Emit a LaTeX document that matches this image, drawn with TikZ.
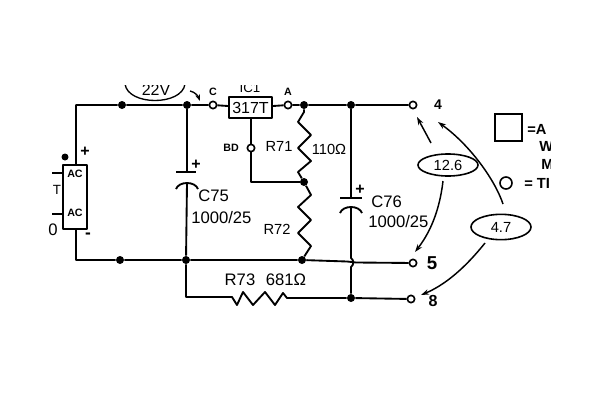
\documentclass[tikz,border=0pt]{standalone}
\usepackage{fontspec}
\setmainfont{Liberation Sans}
\usetikzlibrary{arrows.meta,shapes.geometric}
\tikzset{
  wire/.style={line width=1.4pt,line join=round},
  thin wire/.style={line width=1pt},
  lead/.style={line width=1.1pt,-{Stealth[length=6pt,width=4pt]}},
  junct/.style={circle,fill=black,inner sep=0pt,minimum size=6pt},
  term/.style={circle,draw,line width=1.2pt,fill=white,inner sep=0pt,minimum size=5.5pt},
  lab/.style={inner sep=0.75pt,font=\fontsize{12.5}{14}\selectfont},
  small lab/.style={inner sep=0.75pt,font=\fontsize{8}{9}\selectfont\bfseries},
  key lab/.style={inner sep=0.75pt,anchor=west,font=\fontsize{11}{12}\selectfont\bfseries},
  callout/.style={ellipse,draw,line width=1.2pt,minimum width=45pt,inner sep=0pt,font=\fontsize{11}{12}\selectfont}
}
\begin{document}
\begin{tikzpicture}[x=0.75pt,y=0.75pt,yscale=-1,xscale=1]
\useasboundingbox (0,0) rectangle (600,400);

% Junctions
\node [junct] (n1) at (122,105) {};
\node [junct] (n2) at (187,105) {};
\node [junct] (n3) at (304,105) {};
\node [junct] (n4) at (351,105) {};
\node [junct] (n5) at (304,182) {};
\node [junct] (n6) at (120,260) {};
\node [junct] (n7) at (186,260) {};
\node [junct] (n8) at (302,260) {};
\node [junct] (n9) at (351,298) {};
% Terminals
\node [term] (ptC) at (213,105) {};
\node [term] (ptA) at (288,105) {};
\node [term] (ptBD) at (251,148) {};
\node [term] (t4) at (413,105) {};
\node [term] (t5) at (413,263) {};
\node [term] (t8) at (411,299) {};
% Boxes
\node [draw,wire,minimum width=32pt,minimum height=16pt,inner sep=0pt] (reg) at (250.5,107.5) {\fontsize{12}{13}\selectfont 317T};
\node [draw,wire,minimum width=18pt,minimum height=48pt,inner sep=0pt] (bridge) at (75,197) {};
% Corners
\coordinate (cTL) at (76,105);
\coordinate (cBL) at (76,260);
\coordinate (c75a) at (187,172);
\coordinate (c75b) at (187,183);
\coordinate (c76a) at (351,198);
\coordinate (c76b) at (351,207);

% Top wire
\draw [wire] (bridge.north -| cTL) -- (cTL) -- (n1) -- (n2) -- (ptC) -- (reg) ;
\draw [wire] (reg) -- (ptA) -- (n3) -- (n4) -- (t4) ;
% Bottom wire
\draw [wire] (bridge.south -| cBL) -- (cBL) -- (n6) -- (n7) -- (n8) -- (347,261.5) .. controls (352,261.5) and (352,262) .. (356,262.5) -- (t5) ;
% Adjust tap
\draw [wire] (reg.south -| ptBD) -- (ptBD) -- (ptBD |- n5) -- (n5) ;
% C75
\draw [wire] (n2) -- (c75a) ;
\draw [wire] (c75b) -- (n7) ;
\draw [wire] (176,172) -- (196,172) ;
\draw [wire] (176,189) .. controls (179,181) and (195,181) .. (198,189) ;
% C76
\draw [wire] (n4) -- (c76a) ;
\draw [wire] (c76b) -- (351,258) .. controls (354,260) and (354,265) .. (351,267) -- (n9) ;
\draw [wire] (340,198) -- (362,198) ;
\draw [wire] (340,213) .. controls (343,205) and (359,205) .. (362,213) ;
% R71
\draw [wire] (n3) -- (304,112) -- (298,122) -- (311,135) -- (298,148) -- (311,161) -- (298,172) -- (n5) ;
% R72
\draw [wire] (n5) -- (311,195) -- (298,207) -- (311,220) -- (298,233) -- (311,246) -- (n8) ;
% R73
\draw [wire] (n7) -- (186,297) -- (232,297) -- (237,305) -- (243,292) -- (253,305) -- (265,292) -- (275,305) -- (283,293) -- (287,298) -- (n9) -- (t8) ;
% Bridge stubs
\coordinate (s1) at (52,173);
\coordinate (s2) at (52,214);
\draw [wire] (s1) -- (s1 -| bridge.west) ;
\draw [wire] (s2) -- (s2 -| bridge.west) ;
\fill (65,157) circle (3.5) ;

% Text Node
\node [small lab] (acTop) at (75,174) {AC};
\node [small lab] (acBot) at (75,213) {AC};
\node [lab,font=\fontsize{12}{13}\selectfont\bfseries] (plusB) at (85,152) {+};
\node [lab,font=\fontsize{13}{14}\selectfont\bfseries] (minusB) at (88,236) {-};
\node [lab,font=\fontsize{10}{11}\selectfont] (lblT) at (57,190) {T};
\node [lab] (lblO) at (53,230) {0};
\node [small lab] (lblC) at (213,92) {C};
\node [small lab] (lblA) at (288,92) {A};
\node [small lab] (lblBD) at (231,148) {BD};
\node [lab,font=\fontsize{11}{12}\selectfont] (lblR71) at (279,146) {R71};
\node [lab,font=\fontsize{11}{12}\selectfont] (lblOhm) at (329,149) {110Ω};
\node [lab,font=\fontsize{11}{12}\selectfont] (lblR72) at (277,229) {R72};
\node [lab] (lblR73) at (240,280) {R73};
\node [lab] (lbl681) at (286,280) {681Ω};
\node [lab,font=\fontsize{12}{13}\selectfont\bfseries] (plus75) at (196,165) {+};
\node [lab,font=\fontsize{12}{13}\selectfont\bfseries] (plus76) at (360,190) {+};
\node [lab,anchor=west] (lblC75) at (197,196) {C75};
\node [lab,anchor=west] (lblV75) at (190,218) {1000/25};
\node [lab,anchor=west] (lblC76) at (370,202) {C76};
\node [lab,anchor=west] (lblV76) at (367,222) {1000/25};
\node [lab,font=\fontsize{10.5}{12}\selectfont\bfseries] (lbl4) at (438,105) {4};
\node [lab,font=\fontsize{14}{15}\selectfont\bfseries] (lbl5) at (432,263) {5};
\node [lab,font=\fontsize{12}{13}\selectfont\bfseries] (lbl8) at (433,301) {8};

% Callouts
\node [callout,minimum height=16.5pt] (v126) at (448,165) {12.6};
\node [callout,minimum height=19pt] (v47) at (501,227) {4.7};
\coordinate (a1) at (431,143);
\coordinate (a2) at (417,117);
\coordinate (a3) at (443,181);
\coordinate (a4) at (415,252);
\coordinate (a5) at (503,204);
\coordinate (a6) at (438,122);
\coordinate (a7) at (485,243);
\coordinate (a8) at (421,295);
\draw [lead] (a1) -- (a2) ;
\draw [lead] (a3) .. controls (440,207) and (432,230) .. (a4) ;
\draw [lead] (a5) .. controls (495,180) and (470,145) .. (a6) ;
\draw [lead] (a7) .. controls (465,268) and (445,285) .. (a8) ;

% Cut off at the top and right edge of the scan
\begin{scope}
\clip (100,85) rectangle (300,110);
\draw [thin wire] (125,84) .. controls (128,106) and (182,106) .. (185,84) ;
\node [lab,font=\fontsize{12}{13}\selectfont] (lbl22) at (156,90) {22V};
\node [small lab,font=\fontsize{10}{11}\selectfont] (lblIC) at (250,88) {IC1};
\end{scope}
\coordinate (a9) at (190,91);
\coordinate (a10) at (200,101);
\draw [thin wire,-{Stealth[length=5pt,width=3.5pt]}] (a9) .. controls (195,92) and (198,96) .. (a10) ;
% Legend
\node [draw,line width=1.2pt,minimum width=20pt,minimum height=20pt,inner sep=0pt] (keyBox) at (508.5,127.5) {};
\node [draw,circle,line width=1.2pt,minimum size=9pt,inner sep=0pt] (keyDot) at (506,183) {};
\begin{scope}
\clip (520,85) rectangle (550,200);
\node [key lab] (keyA) at (526,129) {=A};
\node [key lab] (keyW) at (538,146) {W};
\node [key lab] (keyM) at (540,164) {M};
\node [key lab] (keyT) at (523,183) {= TI};
\end{scope}
\end{tikzpicture}
\end{document}
